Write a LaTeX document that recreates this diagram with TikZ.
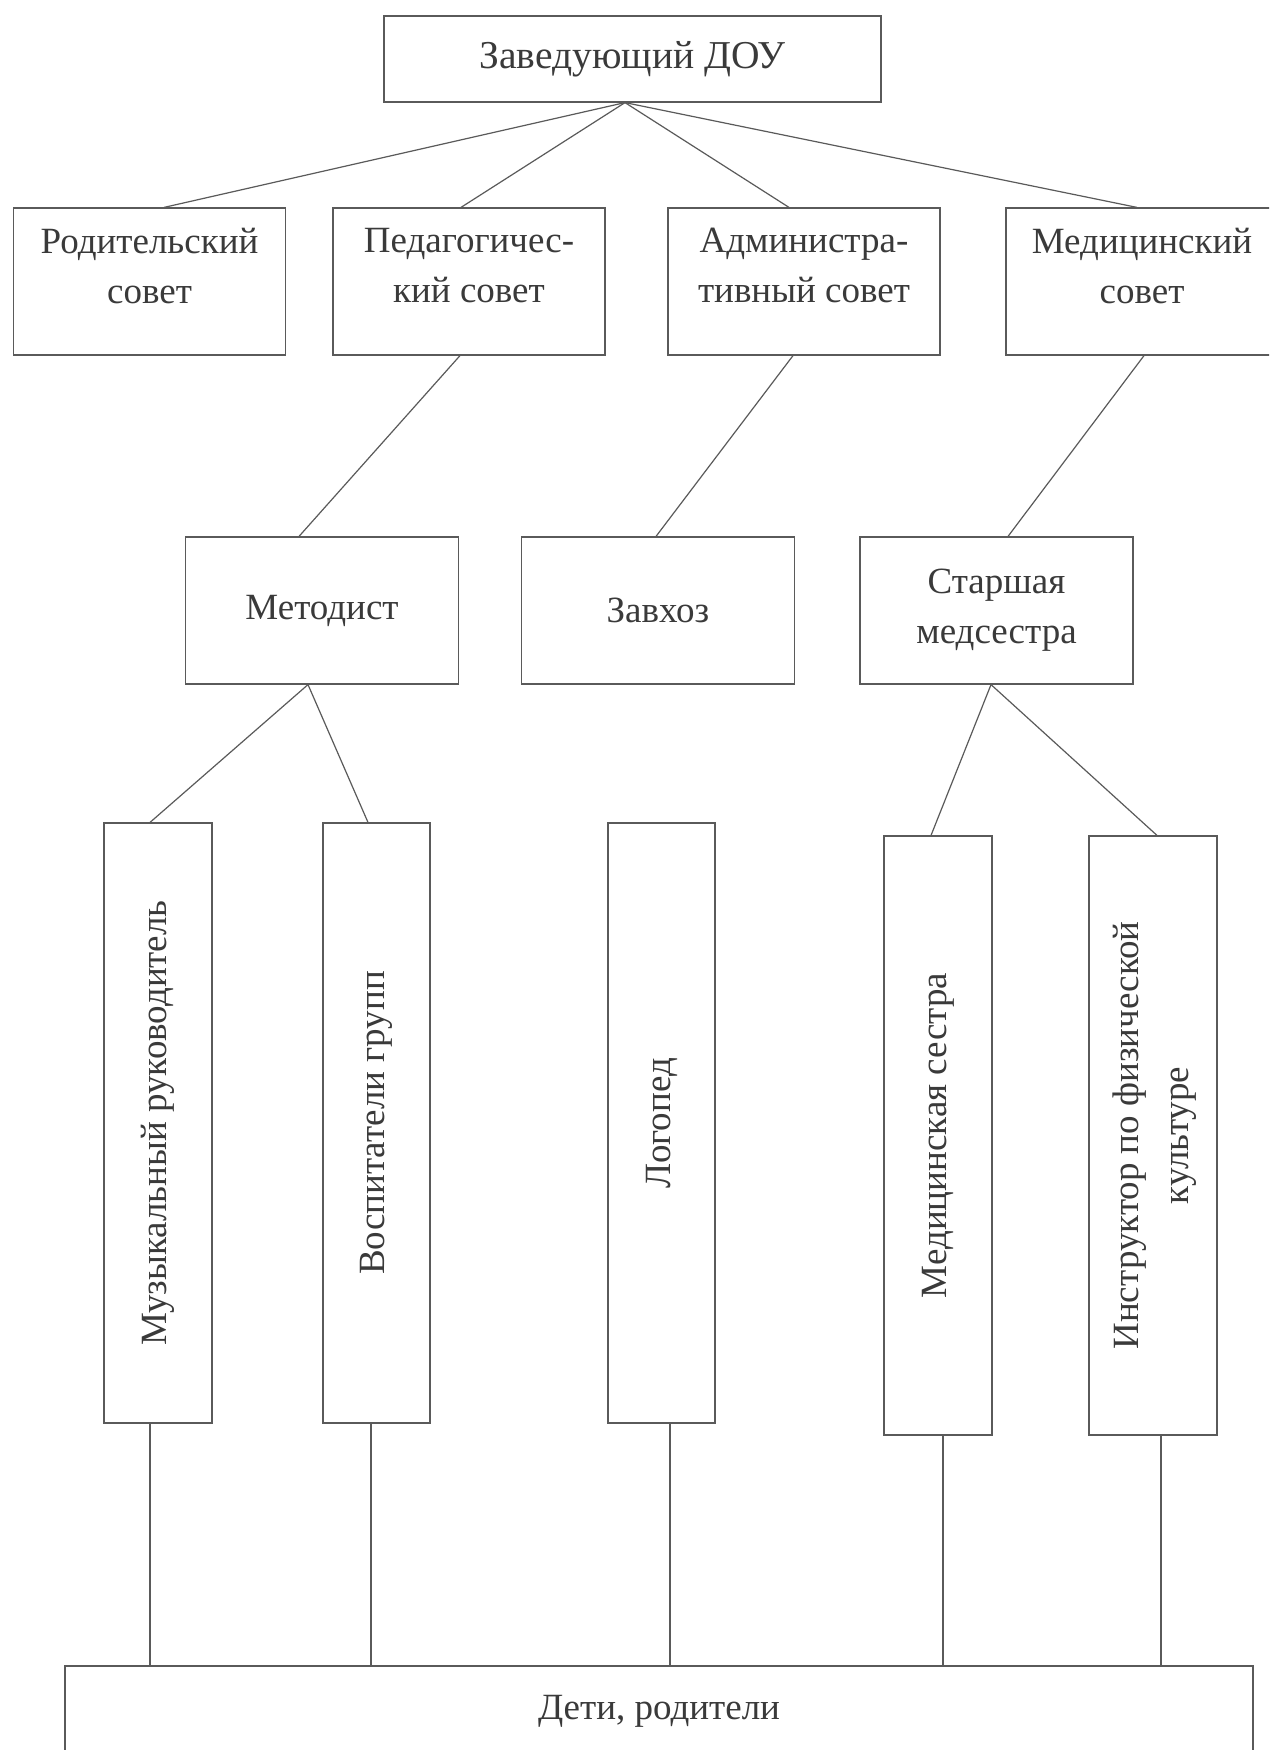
\documentclass[tikz,border=0pt]{standalone}
\usepackage{fontspec}
\setmainfont{Liberation Serif}
\usepackage{graphicx}
\definecolor{ln}{HTML}{5A5A5A}
\definecolor{tx}{HTML}{3A3A3A}
\begin{document}
\begin{tikzpicture}[x=1pt,y=-1pt,
  box/.style={draw=ln, line width=1.2pt, inner sep=0pt, text=tx, align=center,
              font=\fontsize{37}{50}\selectfont},
  cbox/.style={box, minimum width=272pt, minimum height=147pt, text depth=32pt},
  mbox/.style={box, minimum width=273pt, minimum height=147pt},
  vbox/.style={box, minimum height=600pt},
  conn/.style={draw=ln, line width=1.2pt}]
\useasboundingbox (0,0) rectangle (1269,1750);
\clip (0,0) rectangle (1269,1750);
\fill[white] (0,0) rectangle (1269,1750);

% top
\node[box, minimum width=497pt, minimum height=86pt, font=\fontsize{39.5}{50}\selectfont] (head) at (632.5,59) {Заведующий ДОУ};

% councils
\node[cbox] (rod) at (149.5,281.5) {Родительский\\совет};
\node[cbox] (ped) at (469,281.5) {Педагогичес-\\кий совет};
\node[cbox] (adm) at (804,281.5) {Администра-\\тивный совет};
\node[cbox] (med) at (1142,281.5) {Медицинский\\совет};

% level 3
\node[mbox] (met) at (322,610.5) {Методист};
\node[mbox] (zav) at (658,610.5) {Завхоз};
\node[mbox] (star) at (996.5,610.5) {Старшая\\медсестра};

% vertical boxes
\node[vbox, minimum width=108pt] (mus) at (158,1123) {\rotatebox{90}{Музыкальный руководитель}};
\node[vbox, minimum width=107pt] (vosp) at (376.5,1123) {\rotatebox{90}{Воспитатели групп}};
\node[vbox, minimum width=107pt] (log) at (661.5,1123) {\rotatebox{90}{Логопед}};
\node[vbox, minimum width=108pt, minimum height=599pt] (meds) at (938,1135.5) {\rotatebox{90}{Медицинская сестра}};
\node[vbox, minimum width=128pt, minimum height=599pt] (instr) at (1153,1135.5)
  {\rotatebox{90}{\begin{tabular}{@{}c@{}}Инструктор по физической\\культуре\end{tabular}}};

% bottom
\node[box, minimum width=1188pt, minimum height=90pt] (kids) at (659,1711) {Дети, родители};

% connectors
\draw[conn] ([xshift=-7.5pt]head.south) -- ([xshift=14.5pt]rod.north);
\draw[conn] ([xshift=-7.5pt]head.south) -- ([xshift=-8pt]ped.north);
\draw[conn] ([xshift=-7.5pt]head.south) -- ([xshift=-15pt]adm.north);
\draw[conn] ([xshift=-7.5pt]head.south) -- ([xshift=-5pt]med.north);

\draw[conn] ([xshift=-9pt]ped.south) -- ([xshift=-23pt]met.north);
\draw[conn] ([xshift=-11pt]adm.south) -- ([xshift=-2pt]zav.north);
\draw[conn] ([xshift=2pt]med.south) -- ([xshift=11.5pt]star.north);

\draw[conn] ([xshift=-14pt]met.south) -- ([xshift=-8pt]mus.north);
\draw[conn] ([xshift=-14pt]met.south) -- ([xshift=-8.5pt]vosp.north);
\draw[conn] ([xshift=-5.5pt]star.south) -- ([xshift=-7pt]meds.north);
\draw[conn] ([xshift=-5.5pt]star.south) -- ([xshift=4pt]instr.north);

\draw[conn] ([xshift=-8pt]mus.south) -- ([xshift=-8pt]mus.south |- kids.north);
\draw[conn] ([xshift=-5.5pt]vosp.south) -- ([xshift=-5.5pt]vosp.south |- kids.north);
\draw[conn] ([xshift=8.5pt]log.south) -- ([xshift=8.5pt]log.south |- kids.north);
\draw[conn] ([xshift=5pt]meds.south) -- ([xshift=5pt]meds.south |- kids.north);
\draw[conn] ([xshift=8pt]instr.south) -- ([xshift=8pt]instr.south |- kids.north);
\end{tikzpicture}
\end{document}
